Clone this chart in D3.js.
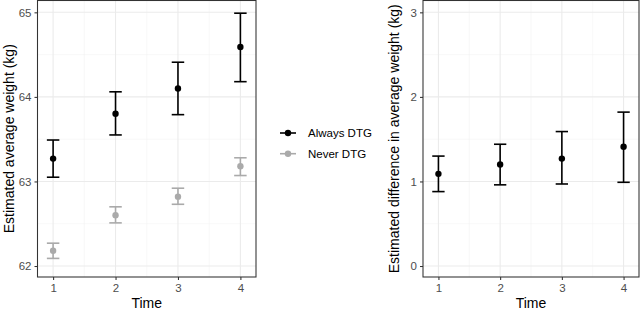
<!DOCTYPE html>
<html>
<head>
<meta charset="utf-8">
<script src="https://cdn.jsdelivr.net/npm/d3@7"></script>
<style>
    body { margin: 0; background: #fff; }
    svg { display: block; font-family: "Liberation Sans", Arial, sans-serif; }
    .grid-major { stroke: #ebebeb; stroke-width: 1.07; }
    .grid-minor { stroke: #f2f2f2; stroke-width: 0.53; }
</style>
</head>
<body>
<div id="chart"></div>
<script>
    // values
    var times = [1, 2, 3, 4],
        alwaysMean = [63.27, 63.80, 64.10, 64.59],
        alwaysLow = [63.05, 63.55, 63.79, 64.18],
        alwaysHigh = [63.49, 64.06, 64.41, 64.99],
        neverMean = [62.18, 62.60, 62.82, 63.18],
        neverLow = [62.09, 62.51, 62.73, 63.07],
        neverHigh = [62.27, 62.70, 62.92, 63.28],
        diffMean = [1.09, 1.20, 1.27, 1.41],
        diffLow = [0.88, 0.96, 0.97, 0.99],
        diffHigh = [1.30, 1.44, 1.59, 1.82],
        leftTicks = [62, 63, 64, 65],
        rightTicks = [0, 1, 2, 3],
        groupNames = ["Always DTG", "Never DTG"],
        groupColors = ["#000000", "#aaaaaa"];

    var width = 640, height = 310;

    var svg = d3.select("#chart")
        .append("svg")
        .attr("width", width)
        .attr("height", height);

    function toRows(mean, low, high) {
        return times.map(function (t, i) {
            return { t: t, y: mean[i], lo: low[i], hi: high[i] };
        });
    }

    function drawPanel(opts) {
        var x = d3.scaleLinear().domain([0.75, 4.25]).range([opts.left, opts.right]),
            y = d3.scaleLinear().domain(opts.domain).range([opts.bottom, opts.top]),
            g = svg.append("g"),
            step = opts.ticks[1] - opts.ticks[0],
            minorY = opts.ticks.slice(1).map(function (d) { return d - step / 2; }),
            minorX = [1.5, 2.5, 3.5];

        // minor grid
        g.selectAll(".mgy").data(minorY).enter().append("line")
            .attr("class", "grid-minor")
            .attr("x1", opts.left).attr("x2", opts.right)
            .attr("y1", y).attr("y2", y);
        g.selectAll(".mgx").data(minorX).enter().append("line")
            .attr("class", "grid-minor")
            .attr("x1", x).attr("x2", x)
            .attr("y1", opts.top).attr("y2", opts.bottom);

        // major grid
        g.selectAll(".gy").data(opts.ticks).enter().append("line")
            .attr("class", "grid-major")
            .attr("x1", opts.left).attr("x2", opts.right)
            .attr("y1", y).attr("y2", y);
        g.selectAll(".gx").data(times).enter().append("line")
            .attr("class", "grid-major")
            .attr("x1", x).attr("x2", x)
            .attr("y1", opts.top).attr("y2", opts.bottom);

        // axes
        var yAxis = g.append("g")
            .attr("transform", "translate(" + opts.left + ",0)")
            .call(d3.axisLeft(y).tickValues(opts.ticks).tickSize(3).tickPadding(3).tickFormat(d3.format("d")));
        var xAxis = g.append("g")
            .attr("transform", "translate(0," + opts.bottom + ")")
            .call(d3.axisBottom(x).tickValues(times).tickSize(3).tickPadding(4).tickFormat(d3.format("d")));
        [xAxis, yAxis].forEach(function (a) {
            a.select(".domain").remove();
            a.attr("font-family", null).attr("font-size", null);
            a.selectAll(".tick line").attr("stroke", "#333").attr("stroke-width", 1.07);
            a.selectAll(".tick text")
                .attr("fill", "#4d4d4d")
                .style("font-size", "11.5px");
        });

        // series
        opts.series.forEach(function (s) {
            var sg = g.append("g");
            sg.selectAll(".bar").data(s.rows).enter().append("line")
                .attr("x1", function (d) { return x(d.t); })
                .attr("x2", function (d) { return x(d.t); })
                .attr("y1", function (d) { return y(d.lo); })
                .attr("y2", function (d) { return y(d.hi); })
                .attr("stroke", s.color).attr("stroke-width", 1.6);
            ["lo", "hi"].forEach(function (k) {
                sg.selectAll(".cap-" + k).data(s.rows).enter().append("line")
                    .attr("x1", function (d) { return x(d.t - 0.1); })
                    .attr("x2", function (d) { return x(d.t + 0.1); })
                    .attr("y1", function (d) { return y(d[k]); })
                    .attr("y2", function (d) { return y(d[k]); })
                    .attr("stroke", s.color).attr("stroke-width", 1.6);
            });
            sg.selectAll("circle").data(s.rows).enter().append("circle")
                .attr("cx", function (d) { return x(d.t); })
                .attr("cy", function (d) { return y(d.y); })
                .attr("r", 3.2)
                .attr("fill", s.color);
        });

        // border
        g.append("rect")
            .attr("x", opts.left).attr("y", opts.top)
            .attr("width", opts.right - opts.left)
            .attr("height", opts.bottom - opts.top)
            .attr("fill", "none").attr("stroke", "#333").attr("stroke-width", 1.07);

        // titles
        g.append("text")
            .attr("x", (opts.left + opts.right) / 2).attr("y", 308)
            .attr("text-anchor", "middle")
            .style("font-size", "14px").attr("fill", "#000")
            .text("Time");
        g.append("text")
            .attr("transform", "translate(" + opts.titleX + "," + ((opts.top + opts.bottom) / 2) + ") rotate(-90)")
            .attr("text-anchor", "middle")
            .style("font-size", "14px").attr("fill", "#000")
            .text(opts.title);
    }

    drawPanel({
        left: 37.5, right: 256, top: 0.5, bottom: 277,
        domain: [61.87, 65.14],
        ticks: leftTicks,
        titleX: 14,
        title: "Estimated average weight (kg)",
        series: [
            { color: groupColors[1], rows: toRows(neverMean, neverLow, neverHigh) },
            { color: groupColors[0], rows: toRows(alwaysMean, alwaysLow, alwaysHigh) }
        ]
    });

    drawPanel({
        left: 423, right: 639, top: 0.5, bottom: 277,
        domain: [-0.13, 3.14],
        ticks: rightTicks,
        titleX: 399,
        title: "Estimated difference in average weight (kg)",
        series: [
            { color: groupColors[0], rows: toRows(diffMean, diffLow, diffHigh) }
        ]
    });

    // legend
    var legend = svg.append("g").attr("transform", "translate(280,133)");
    var item = legend.selectAll("g").data(groupNames).enter().append("g")
        .attr("transform", function (d, i) { return "translate(0," + (i * 20.7) + ")"; });
    item.append("line")
        .attr("x1", 0).attr("x2", 16).attr("y1", 0).attr("y2", 0)
        .attr("stroke", function (d, i) { return groupColors[i]; })
        .attr("stroke-width", 1.6);
    item.append("circle")
        .attr("cx", 8).attr("cy", 0).attr("r", 3.2)
        .attr("fill", function (d, i) { return groupColors[i]; });
    item.append("text")
        .attr("x", 28).attr("y", 4.2)
        .style("font-size", "11.5px")
        .text(function (d) { return d; });
</script>
</body>
</html>
